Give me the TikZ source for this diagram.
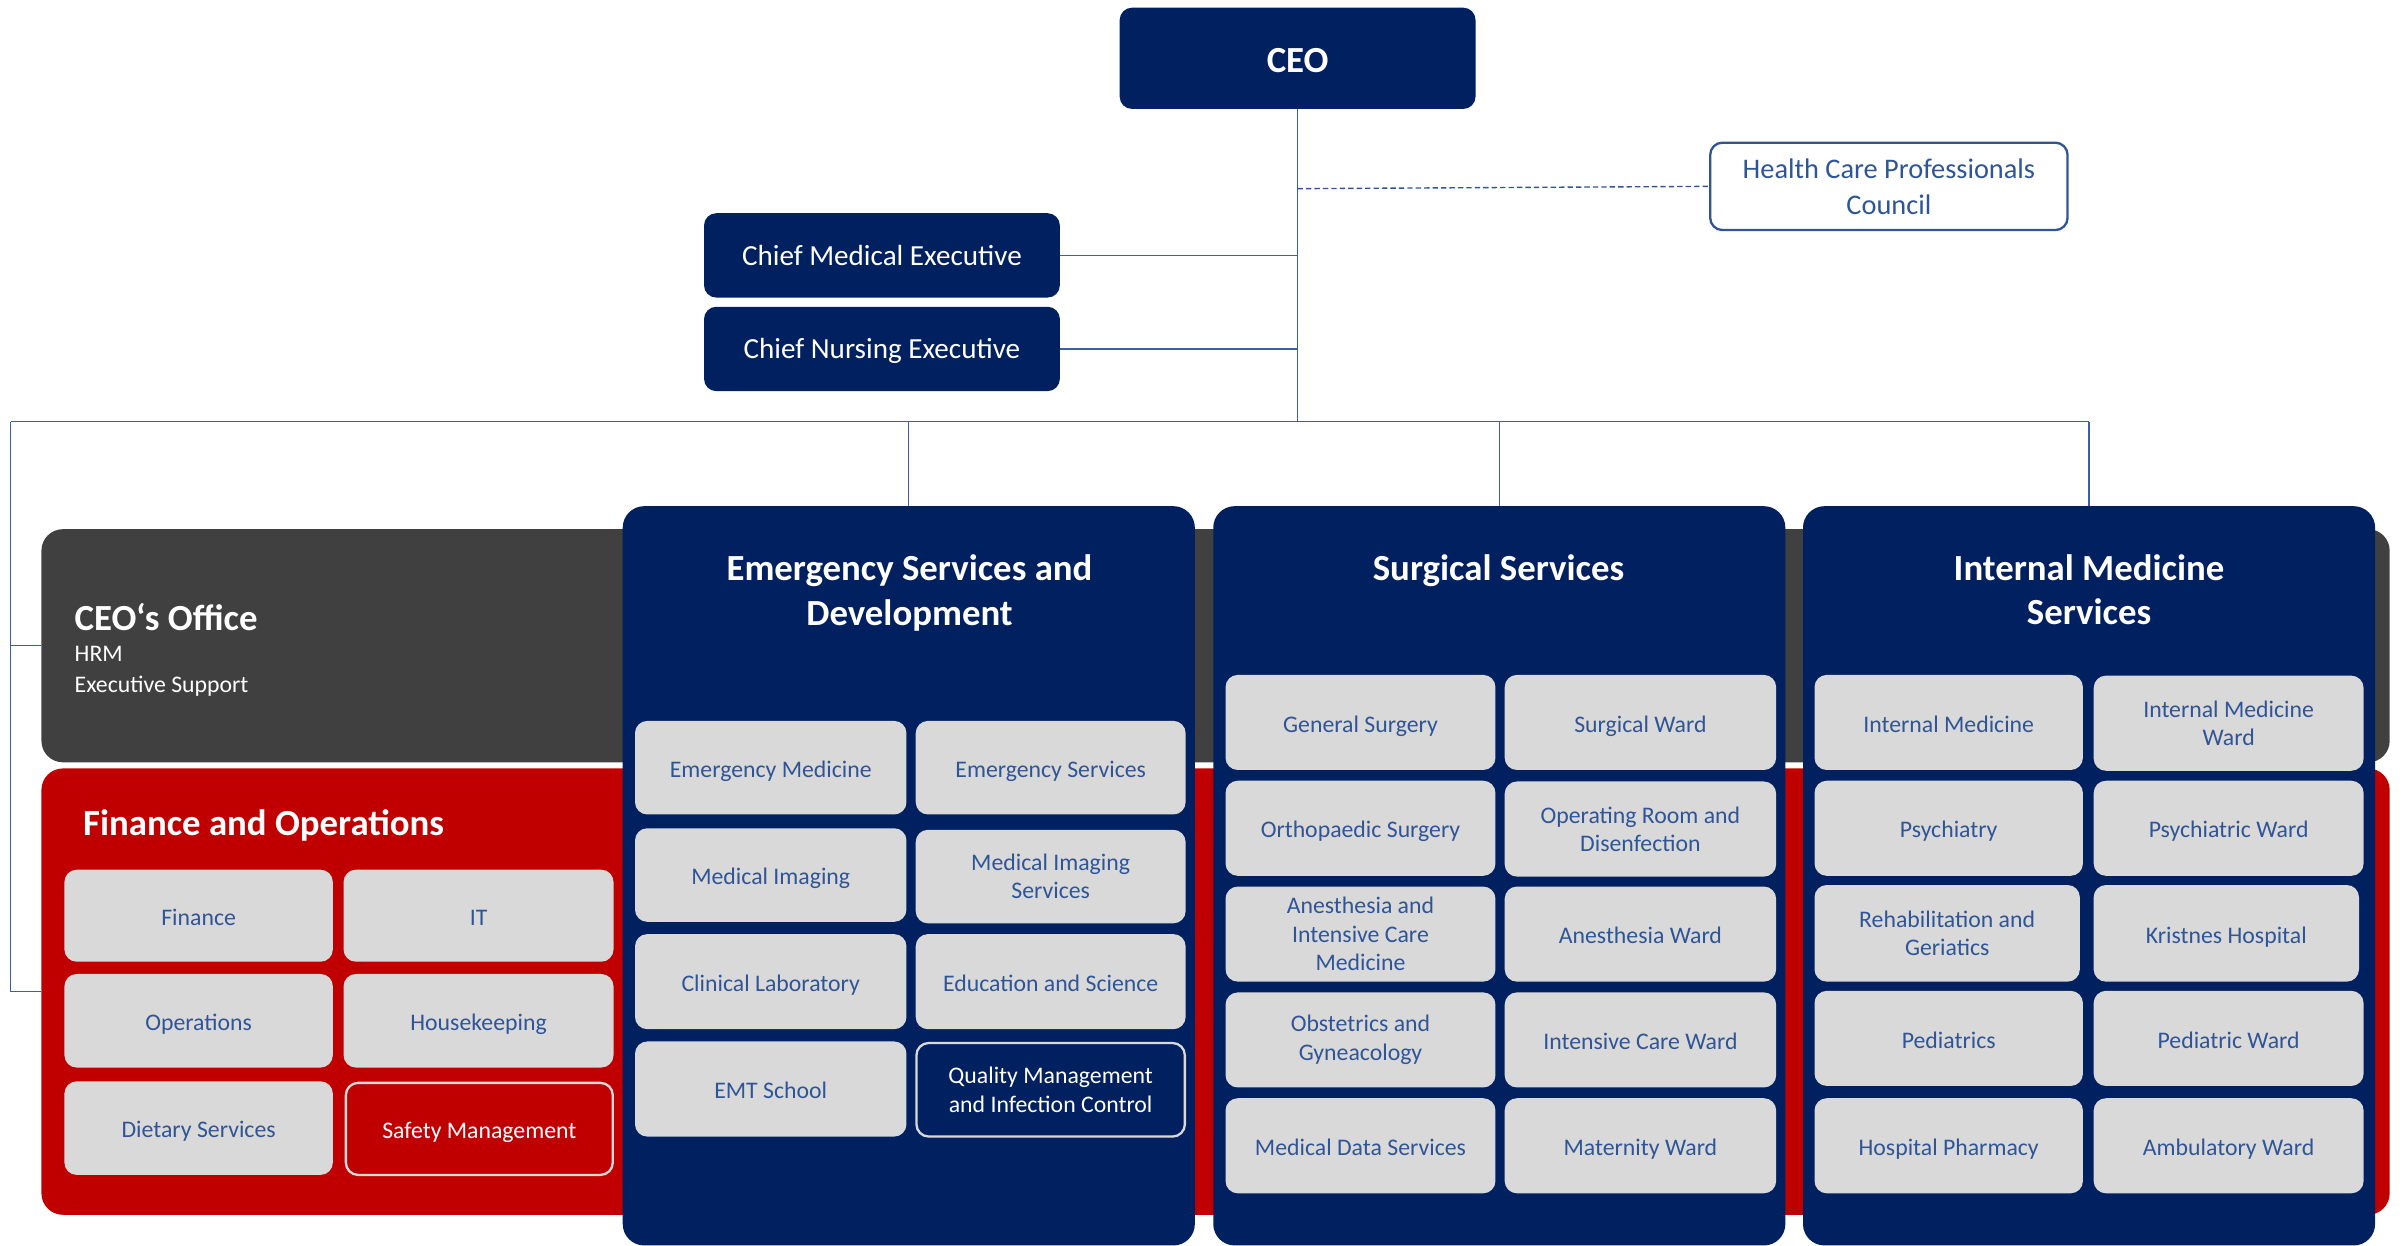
\documentclass[tikz,border=0pt]{standalone}
\usepackage{fontspec}
\setmainfont{Carlito}
\definecolor{navy}{HTML}{002060}
\definecolor{bandgray}{HTML}{404040}
\definecolor{bandred}{HTML}{C00000}
\definecolor{lgray}{HTML}{D9D9D9}
\definecolor{tblue}{HTML}{2F5597}
\definecolor{lblue}{HTML}{3A5FA5}
\tikzset{
  box/.style={rounded corners=8pt, inner sep=0pt, align=center},
  subm/.style={box, fill=lgray, text=tblue, minimum width=176pt, minimum height=61pt,
    font=\fontsize{15.5}{18.5}\selectfont},
  sub/.style={subm, text height=15.8pt, text depth=3.2pt},
  hilite/.style={draw=lgray, line width=1.5pt},
  exec/.style={box, fill=navy, text=white, minimum width=232pt, minimum height=55pt,
    font=\fontsize{19}{23}\selectfont, text height=18.1pt, text depth=5.1pt},
  column/.style={rounded corners=14pt, fill=navy, inner sep=0pt, minimum width=373pt, minimum height=482pt},
  band/.style={rounded corners=14pt, inner sep=0pt, minimum width=1531pt},
  title/.style={text=white, align=center, inner sep=0pt, font=\fontsize{24}{29}\selectfont\bfseries},
  bandtext/.style={anchor=base west, text=white, inner sep=0pt},
  conn/.style={draw=lblue, line width=0.8pt},
}
\begin{document}
\begin{tikzpicture}[x=1pt, y=-1pt]
\useasboundingbox (0,0) rectangle (1568,812);
% bands
\node[band, fill=bandgray, minimum height=152pt] (office) at (792.5,421) {};
\node[band, fill=bandred, minimum height=291pt] (fin) at (792.5,646.5) {};
% columns
\node[column] (ems) at (592.5,571) {};
\node[column] (surg) at (977.5,571) {};
\node[column] (imed) at (1362,571) {};
% top nodes
\node[box, fill=navy, text=white, minimum width=232pt, minimum height=66pt,
  font=\fontsize{24}{29}\selectfont\bfseries, text height=23pt, text depth=4.6pt] (ceo) at (846,38) {CEO};
\node[box, fill=white, draw=tblue, line width=1.5pt, text=tblue, minimum width=233pt, minimum height=57pt,
  font=\fontsize{18.5}{23}\selectfont] (hcpc) at (1231.5,121.5) {Health Care Professionals\\[0.5pt]Council};
\node[exec] (cme) at (575,166.5) {Chief Medical Executive};
\node[exec] (cne) at (575,227.5) {Chief Nursing Executive};
% connectors
\coordinate (bus) at (846,275);
\coordinate (busl) at (7,275);
\coordinate (busr) at (1362,275);
\coordinate (dotj) at (846,123);
\draw[conn, line width=0.6pt] (ceo.south) -- (bus);
\draw[conn, line width=1.1pt] (cme.east) -- (cme.east -| bus);
\draw[conn, line width=1.1pt] (cne.east) -- (cne.east -| bus);
\draw[conn, draw=tblue, line width=0.9pt, dash pattern=on 3.5pt off 2pt] (dotj) -- (hcpc.west);
\draw[conn] (busl) -- (busr);
\draw[conn] (ems.north |- bus) -- (ems.north);
\draw[conn] (surg.north |- bus) -- (surg.north);
\draw[conn] (busr) -- (imed.north);
\draw[conn] (busl) -- (busl |- fin.west) -- (fin.west);
\draw[conn] (busl |- office.west) -- (office.west);
% band texts
\node[bandtext, font=\fontsize{24}{29}\selectfont\bfseries] (officet) at (48.5,411) {CEO‘s Office};
\node[bandtext, font=\fontsize{15.5}{21}\selectfont] (hrm) at (48.5,431) {HRM};
\node[bandtext, font=\fontsize{15.5}{21}\selectfont] (exsup) at (48.5,451.5) {Executive Support};
\node[bandtext, font=\fontsize{24}{29}\selectfont\bfseries] (fint) at (54,544.5) {Finance and Operations};
% column titles
\node[title] (emst) at (593,386.5) {Emergency Services and\\Development};
\node[title] (surgt) at (977,372) {Surgical Services};
\node[title] (imedt) at (1362,384.5) {Internal Medicine\\Services};
% finance sub boxes
\node[sub, minimum width=175pt, minimum height=60pt] (f1) at (129.5,597) {Finance};
\node[sub, minimum height=60pt] (f2) at (312,597) {IT};
\node[sub, minimum width=175pt] (f3) at (129.5,665.5) {Operations};
\node[sub] (f4) at (312,665.5) {Housekeeping};
\node[sub, minimum width=175pt] (f5) at (129.5,735.5) {Dietary Services};
\node[sub, fill=bandred, text=white, hilite, minimum width=174pt, minimum height=60pt] (f6) at (312.5,736) {Safety Management};
% emergency sub boxes
\node[sub, minimum width=177pt] (e1) at (502.5,500.5) {Emergency Medicine};
\node[sub] (e2) at (685,500.5) {Emergency Services};
\node[sub, minimum width=177pt] (e3) at (502.5,570.5) {Medical Imaging};
\node[subm] (e4) at (685,571.5) {Medical Imaging\\Services};
\node[sub, minimum width=177pt, minimum height=62pt] (e5) at (502.5,640) {Clinical Laboratory};
\node[sub, minimum height=62pt] (e6) at (685,640) {Education and Science};
\node[sub, minimum width=177pt, minimum height=62pt] (e7) at (502.5,710) {EMT School};
\node[subm, fill=navy, text=white, hilite, minimum width=175pt, minimum height=61pt] (e8) at (685,710.5) {Quality Management\\and Infection Control};
% surgical sub boxes
\node[sub, minimum height=62pt] (s1) at (887,471) {General Surgery};
\node[sub, minimum width=177pt, minimum height=62pt] (s2) at (1069.5,471) {Surgical Ward};
\node[sub, minimum height=62pt] (s3) at (887,540) {Orthopaedic Surgery};
\node[subm, minimum width=177pt, minimum height=62pt] (s4) at (1069.5,540.5) {Operating Room and\\Disenfection};
\node[subm, minimum height=62pt] (s5) at (887,609) {Anesthesia and\\Intensive Care\\Medicine};
\node[sub, minimum width=177pt, minimum height=62pt] (s6) at (1069.5,609) {Anesthesia Ward};
\node[subm, minimum height=62pt] (s7) at (887,678) {Obstetrics and\\Gyneacology};
\node[sub, minimum width=177pt, minimum height=62pt] (s8) at (1069.5,678) {Intensive Care Ward};
\node[sub, minimum height=62pt] (s9) at (887,747) {Medical Data Services};
\node[sub, minimum width=177pt, minimum height=62pt] (s10) at (1069.5,747) {Maternity Ward};
% internal medicine sub boxes
\node[sub, minimum width=175pt, minimum height=62pt] (i1) at (1270.5,471) {Internal Medicine};
\node[subm, minimum height=62pt] (i2) at (1453,471.5) {Internal Medicine\\Ward};
\node[sub, minimum width=175pt, minimum height=62pt] (i3) at (1270.5,540) {Psychiatry};
\node[sub, minimum height=62pt] (i4) at (1453,540) {Psychiatric Ward};
\node[subm, minimum width=173pt, minimum height=63pt] (i5) at (1269.5,608.5) {Rehabilitation and\\Geriatics};
\node[sub, minimum width=173pt, minimum height=63pt] (i6) at (1451.5,608.5) {Kristnes Hospital};
\node[sub, minimum width=175pt, minimum height=62pt] (i7) at (1270.5,677) {Pediatrics};
\node[sub, minimum height=62pt] (i8) at (1453,677) {Pediatric Ward};
\node[sub, minimum width=175pt, minimum height=62pt] (i9) at (1270.5,747) {Hospital Pharmacy};
\node[sub, minimum height=62pt] (i10) at (1453,747) {Ambulatory Ward};
\end{tikzpicture}
\end{document}
